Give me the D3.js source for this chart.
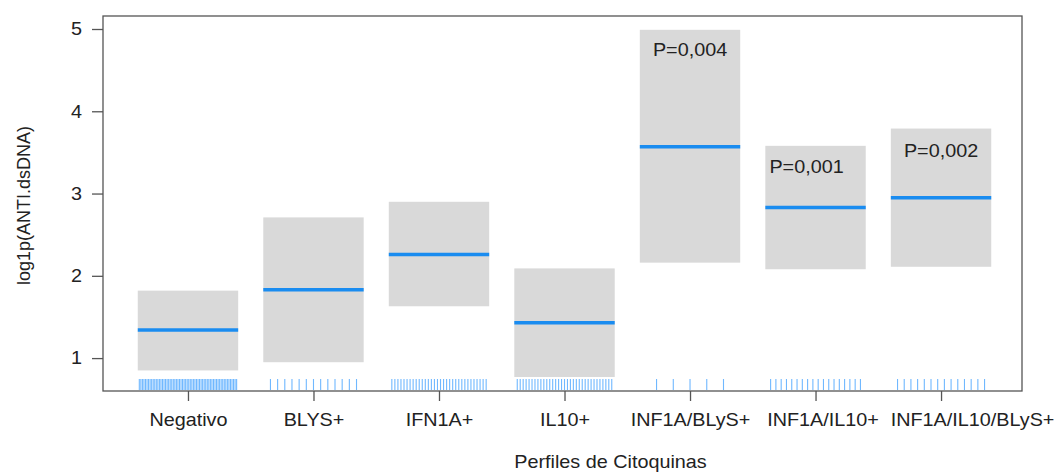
<!DOCTYPE html>
<html><head><meta charset="utf-8">
<script src="https://cdn.jsdelivr.net/npm/d3@7"></script>
<style>body{margin:0;background:#fff}svg{display:block}text{font-family:"Liberation Sans",Arial,sans-serif;fill:#222}</style>
</head><body>
<svg id="c" width="1057" height="473"></svg>
<script>
const categories = ["Negativo","BLYS+","IFN1A+","IL10+","INF1A/BLyS+","INF1A/IL10+","INF1A/IL10/BLyS+"];
const fitValues  = [1.34, 1.83, 2.26, 1.43, 3.57, 2.83, 2.95];
const lowerCI    = [0.85, 0.95, 1.63, 0.77, 2.16, 2.08, 2.11];
const upperCI    = [1.82, 2.71, 2.90, 2.09, 4.99, 3.58, 3.79];
const rugCounts  = [64, 13, 32, 33, 5, 18, 14];
const pLabels    = [null, null, null, null, "P=0,004", "P=0,001", "P=0,002"];
const pLabelY    = [null, null, null, null, 4.67, 3.25, 3.45];
const yTicks     = [1, 2, 3, 4, 5];

const L = 103, R = 1022, T = 16, B = 391;
const SX = 1.1;
const labelShift = [0, 0, 0, 0, 0, 7, 31];
const svg = d3.select("#c");
const x = d3.scaleLinear().domain([0.323, 7.645]).range([L, R]);
const y = d3.scaleLinear().domain([0.60, 5.158]).range([B, T]);
const hw = 0.4;

const g = svg.append("g");
categories.forEach((c, i) => {
  const xi = i + 1;
  g.append("rect").attr("x", x(xi - hw)).attr("width", x(xi + hw) - x(xi - hw))
    .attr("y", y(upperCI[i])).attr("height", y(lowerCI[i]) - y(upperCI[i]))
    .attr("fill", "#d9d9d9");
  g.append("line").attr("x1", x(xi - hw)).attr("x2", x(xi + hw))
    .attr("y1", y(fitValues[i])).attr("y2", y(fitValues[i]))
    .attr("stroke", "#1a8cf0").attr("stroke-width", 3.5);
  const n = rugCounts[i];
  const pos = d3.range(1, n + 1).map(k => xi - hw + 2 * hw * k / (n + 1));
  g.selectAll(null).data(pos).enter().append("line")
    .attr("x1", d => x(d)).attr("x2", d => x(d))
    .attr("y1", 379).attr("y2", 390)
    .attr("stroke", "#70b8ff").attr("stroke-width", 1.1);
  if (pLabels[i]) {
    const px = x(xi) - (i === 5 ? 9 : 0);
    g.append("text").attr("transform", `translate(${px},${y(pLabelY[i])}) scale(${SX},1)`)
      .attr("text-anchor", "middle").attr("font-size", 18).text(pLabels[i]);
  }
});

svg.append("rect").attr("x", L).attr("y", T).attr("width", R - L).attr("height", B - T)
  .attr("fill", "none").attr("stroke", "#555").attr("stroke-width", 1.3);

const yAxis = svg.append("g").attr("transform", `translate(${L},0)`)
  .call(d3.axisLeft(y).tickValues(yTicks).tickSize(11).tickPadding(10).tickFormat(d3.format("d")));
yAxis.select(".domain").remove();
yAxis.selectAll("line").attr("stroke", "#555").attr("stroke-width", 1.3);
yAxis.selectAll("text").attr("font-size", 18).attr("fill", "#222")
  .attr("x", -21 / SX).attr("transform", `scale(${SX},1)`);

const xAxis = svg.append("g").attr("transform", `translate(0,${B})`)
  .call(d3.axisBottom(x).tickValues(d3.range(1, 8)).tickSize(10).tickPadding(12).tickFormat((d) => categories[d - 1]));
xAxis.select(".domain").remove();
xAxis.selectAll("line").attr("stroke", "#555").attr("stroke-width", 1.3);
xAxis.selectAll("text").attr("font-size", 18).attr("fill", "#222")
  .attr("x", d => labelShift[d - 1] / SX)
  .attr("transform", `scale(${SX},1)`);

svg.append("text").attr("transform", `translate(${(L + R) / 2 + 48},468) scale(${SX},1)`).attr("text-anchor", "middle")
  .attr("font-size", 18).text("Perfiles de Citoquinas");
svg.append("text").attr("transform", `translate(30,${(T + B) / 2 + 2}) rotate(-90)`)
  .attr("text-anchor", "middle").attr("font-size", 18).text("log1p(ANTI.dsDNA)");
</script>
</body></html>
